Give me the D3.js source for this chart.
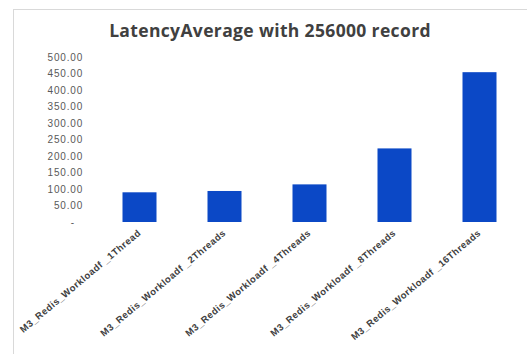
<!DOCTYPE html>
<html><head><meta charset="utf-8">
<script src="https://cdn.jsdelivr.net/npm/d3@7"></script>
<style>html,body{margin:0;padding:0;background:#fff;}svg{display:block;}</style>
</head><body>
<svg id="c" width="527" height="354"></svg>
<script>
const categories = ["M3_Redis_Workloadf _1Thread","M3_Redis_Workloadf _2Threads","M3_Redis_Workloadf _4Threads","M3_Redis_Workloadf _8Threads","M3_Redis_Workloadf _16Threads"];
const latency = [90, 94, 114, 223, 454];
const yTicks = [0,50,100,150,200,250,300,350,400,450,500];
const title = "LatencyAverage with 256000 record";

const svg = d3.select("#c");
// frame
svg.append("line").attr("x1",13.5).attr("x2",13.5).attr("y1",9).attr("y2",354).attr("stroke","#d9d9d9");
svg.append("line").attr("x1",13).attr("x2",527).attr("y1",9.5).attr("y2",9.5).attr("stroke","#d9d9d9");

const x = d3.scaleBand().domain(categories).range([97,522]).paddingInner(0.6).paddingOuter(0.3);
const y = d3.scaleLinear().domain([0,500]).range([222,57]);

svg.append("text").attr("x",270).attr("y",37).attr("text-anchor","middle")
  .attr("font-family","Open Sans, sans-serif").attr("font-weight",700).attr("font-size",17.5)
  .attr("letter-spacing",0.35).attr("fill","#404040").text(title);

const ya = svg.append("g").attr("transform","translate(83,0)")
  .call(d3.axisLeft(y).tickValues(yTicks).tickSize(0).tickPadding(0)
    .tickFormat(d => d===0 ? "-" : d3.format(".2f")(d)));
ya.select(".domain").remove();
ya.selectAll("text").attr("font-family","Liberation Sans, Arial, sans-serif").attr("font-size",10)
  .attr("letter-spacing",0.8).attr("fill","#595959");
ya.selectAll(".tick").filter(d=>d===0).select("text").attr("dx",-8);

svg.selectAll("rect.bar").data(latency).join("rect").attr("class","bar")
  .attr("x",(d,i)=>x(categories[i])).attr("width",x.bandwidth())
  .attr("y",d=>y(d)).attr("height",d=>y(0)-y(d)).attr("fill","#0b48c6");

const xa = svg.append("g").attr("transform","translate(0,222)")
  .call(d3.axisBottom(x).tickSize(0).tickPadding(0));
xa.select(".domain").remove();
xa.selectAll("text").attr("font-family","Liberation Sans, Arial, sans-serif").attr("font-size",9.5)
  .attr("font-weight","bold").attr("letter-spacing",0.5).attr("fill","#404040")
  .attr("text-anchor","end").attr("dy",0).attr("transform","translate(2,12) rotate(-40)");
</script>
</body></html>
